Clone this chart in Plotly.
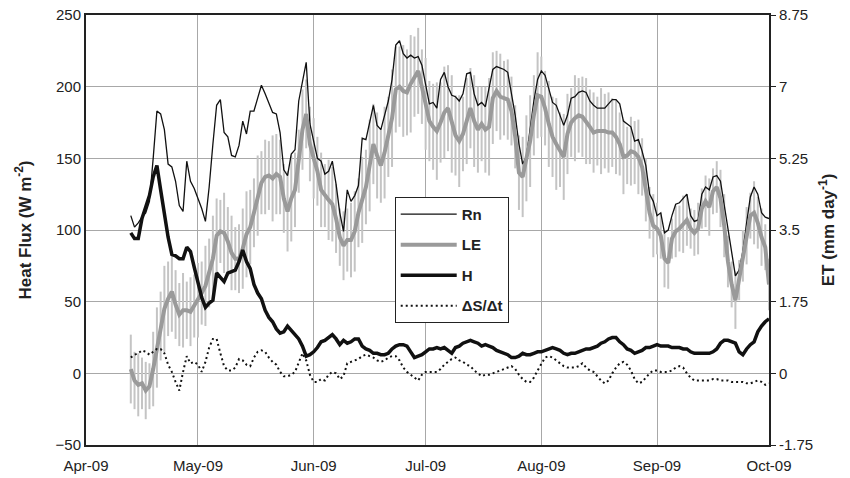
import pandas as pd
import plotly.graph_objects as go

start_date = "2009-04-13"
n_days = 172
dates = pd.date_range(start_date, periods=n_days, freq="D")

rn = [110,102,105,109,112,120,150,183,181,170,
      146,144,134,117,113,148,134,129,122,115,
      106,130,160,187,191,168,165,152,151,159,
      176,167,183,183,192,201,195,188,182,181,
      168,142,138,153,156,190,205,217,174,163,
      150,148,139,141,148,132,112,99,128,120,
      124,131,164,163,175,187,173,170,180,190,
      205,229,232,223,220,222,220,221,215,200,
      188,189,185,205,210,200,194,193,190,195,
      209,210,195,187,189,186,200,212,214,213,
      212,210,196,180,160,146,151,172,190,205,
      211,208,198,189,187,180,173,180,192,193,
      196,197,196,190,187,185,185,185,188,191,
      191,188,176,174,172,162,163,155,145,125,
      120,110,112,98,100,110,118,119,122,125,
      110,106,107,125,130,128,137,138,134,118,
      100,83,68,72,85,105,123,130,125,112,
      109,108]

le = [3,-5,-8,-7,-12,-9,3,18,33,45,
      52,57,48,41,44,44,43,47,51,56,
      61,70,80,96,99,98,92,84,80,80,
      87,97,102,112,124,133,137,138,136,139,
      137,122,113,122,128,148,170,181,160,150,
      141,128,124,121,118,108,95,89,93,93,
      99,112,121,130,145,160,152,145,154,165,
      178,198,200,197,196,202,207,211,200,188,
      176,172,169,175,182,185,174,166,162,167,
      176,185,176,170,174,170,172,192,197,193,
      192,191,183,165,140,137,150,162,180,194,
      193,185,174,165,160,156,151,167,175,178,
      180,179,176,172,168,169,169,169,168,168,
      165,160,151,152,155,154,151,144,128,112,
      103,101,96,80,77,94,99,101,104,107,
      101,98,101,115,120,116,127,130,122,103,
      78,62,51,65,82,96,110,112,105,95,
      88,62]

le_err = [24,20,22,18,20,16,26,28,24,30,26,28,24,22,26,20,24,22,
          26,22,28,24,30,26,22,28,24,26,22,24,28,30,26,24,28,22,26,24,30,28,26,24,28,30,26,22,28,24,26,
          28,24,26,22,28,26,24,20,24,22,26,28,24,30,26,32,28,30,26,32,28,34,30,28,32,30,34,28,30,26,
          32,28,30,34,28,32,30,34,28,32,26,30,28,32,30,26,30,34,32,28,30,26,28,24,22,26,28,30,32,28,30,
          28,26,30,28,32,26,30,28,24,30,26,28,30,26,28,24,30,26,28,24,26,22,26,20,24,22,26,20,22,18,22,
          18,16,20,18,14,18,16,20,18,14,16,18,14,18,20,16,18,20,22,18,16,20,14,18,20,16,22,18,20,16,
          18]

h = [98,94,94,108,116,124,137,145,128,110,
     95,83,82,80,80,88,85,74,63,53,
     46,49,51,70,67,64,70,71,72,78,
     86,78,73,62,56,52,44,39,36,31,
     28,29,33,30,27,24,19,12,13,15,
     18,22,23,25,27,24,20,23,21,22,
     24,24,19,17,16,14,14,13,13,14,
     17,19,20,20,19,15,11,12,13,15,
     17,17,18,17,18,16,14,18,19,21,
     22,23,22,21,19,20,19,18,16,15,
     14,13,11,11,12,14,13,13,14,15,
     15,16,17,18,17,16,14,13,14,14,
     15,16,17,17,18,19,21,22,24,25,
     25,22,20,17,16,14,15,16,18,18,
     19,20,19,19,19,18,18,18,17,17,
     15,14,14,14,14,14,15,17,21,23,
     23,22,21,15,13,17,20,22,29,33,
     36,38]

ds = [11,13,14,16,15,13,15,17,17,14,
      6,1,-6,-12,1,12,7,8,6,1,
      8,18,24,24,14,5,2,2,4,10,
      9,6,5,11,15,16,15,11,8,6,
      1,-2,-2,-1,1,7,14,9,-1,-6,
      -6,-4,-5,-1,1,0,-4,-2,7,8,
      9,10,12,13,12,11,9,8,9,11,
      12,12,9,4,1,-1,-3,-5,-1,1,
      1,1,1,3,6,8,10,11,9,8,
      6,5,2,0,-2,-1,-1,0,1,2,
      3,4,5,3,-1,-4,-6,-6,-3,2,
      7,11,12,11,9,7,5,4,4,4,
      5,7,4,2,1,-2,-5,-7,-5,0,
      4,7,8,6,2,-4,-7,-6,-3,0,
      2,2,1,1,1,2,4,5,4,0,
      -3,-5,-5,-5,-5,-5,-4,-4,-5,-5,
      -5,-6,-6,-6,-6,-7,-7,-6,-5,-6,
      -8,-7]

series_names = ["Rn", "LE", "H", "\u0394S/\u0394t"]
left_ticks = [-50, 0, 50, 100, 150, 200, 250]
right_ticks = [-1.75, 0, 1.75, 3.5, 5.25, 7, 8.75]
right_tick_text = ["-1.75", "0", "1.75", "3.5", "5.25", "7", "8.75"]

FONT = "Liberation Sans, Arial, sans-serif"
AX = "#222222"
GRID = "#a8a8a8"

fig = go.Figure()
# LE error bars (behind everything)
fig.add_trace(go.Scatter(
    x=dates, y=le, mode="markers", marker=dict(size=0.1, color="rgba(0,0,0,0)"),
    error_y=dict(type="data", array=le_err, visible=True, color="#c4c4c4",
                 thickness=2, width=0),
    showlegend=False, hoverinfo="skip"))
fig.add_trace(go.Scatter(x=dates, y=rn, mode="lines", name="<b>%s</b>" % series_names[0],
                         legendgroup="g1",
                         line=dict(color="#111111", width=1.3)))
fig.add_trace(go.Scatter(x=dates, y=le, mode="lines", name="<b>%s</b>" % series_names[1],
                         legendgroup="g2",
                         line=dict(color="#9a9a9a", width=4)))
fig.add_trace(go.Scatter(x=dates, y=h, mode="lines", name="<b>%s</b>" % series_names[2],
                         legendgroup="g3",
                         line=dict(color="#111111", width=3.5)))
fig.add_trace(go.Scatter(x=dates, y=ds, mode="lines", name="<b>%s</b>" % series_names[3],
                         legendgroup="g4",
                         line=dict(color="#111111", width=2, dash="2px,3px")))
# empty trace so the right (ET) axis is drawn
fig.add_trace(go.Scatter(x=[], y=[], yaxis="y2", showlegend=False, hoverinfo="skip"))

fig.update_layout(
    width=850, height=478,
    margin=dict(l=86, r=81, t=15, b=33, autoexpand=False),
    paper_bgcolor="white", plot_bgcolor="white",
    font=dict(family=FONT, size=15, color=AX),
    showlegend=True,
    legend=dict(x=0.452, y=0.577, xanchor="left", yanchor="top",
                bgcolor="white", bordercolor="#222222", borderwidth=1,
                font=dict(family=FONT, size=15, color=AX),
                traceorder="grouped", itemwidth=56, tracegroupgap=8),
    xaxis=dict(type="date", range=["2009-04-01", "2009-10-01"],
               tick0="2009-04-01", dtick="M1", tickformat="%b-%y",
               showgrid=True, gridcolor=GRID, gridwidth=1,
               showline=True, linecolor=AX, linewidth=2, mirror=True,
               ticks="", tickfont=dict(size=15), zeroline=False, automargin=False,
               ticklabelstandoff=6),
    yaxis=dict(range=[-50, 250], tickvals=left_ticks,
               showgrid=True, gridcolor=GRID, gridwidth=1,
               showline=True, linecolor=AX, linewidth=2, mirror=True,
               ticks="", zeroline=False, tickfont=dict(size=15), automargin=False,
               title=dict(text="<b>Heat Flux (W m<sup>-2</sup>)</b>",
                          font=dict(size=17), standoff=20)),
    yaxis2=dict(range=[-1.75, 8.75], tickvals=right_ticks, ticktext=right_tick_text,
                overlaying="y", side="right", showgrid=False, zeroline=False,
                showline=True, linecolor=AX, linewidth=2, automargin=False,
                ticks="outside", ticklen=5, tickcolor=AX, tickfont=dict(size=15),
                title=dict(text="<b>ET (mm day<sup>-1</sup>)</b>",
                           font=dict(size=17), standoff=10)),
)

# remove the page body's default margin so the figure fills the window exactly
fig.write_html("out.html", config={"displayModeBar": False},
               post_script="document.body.style.margin='0';")
